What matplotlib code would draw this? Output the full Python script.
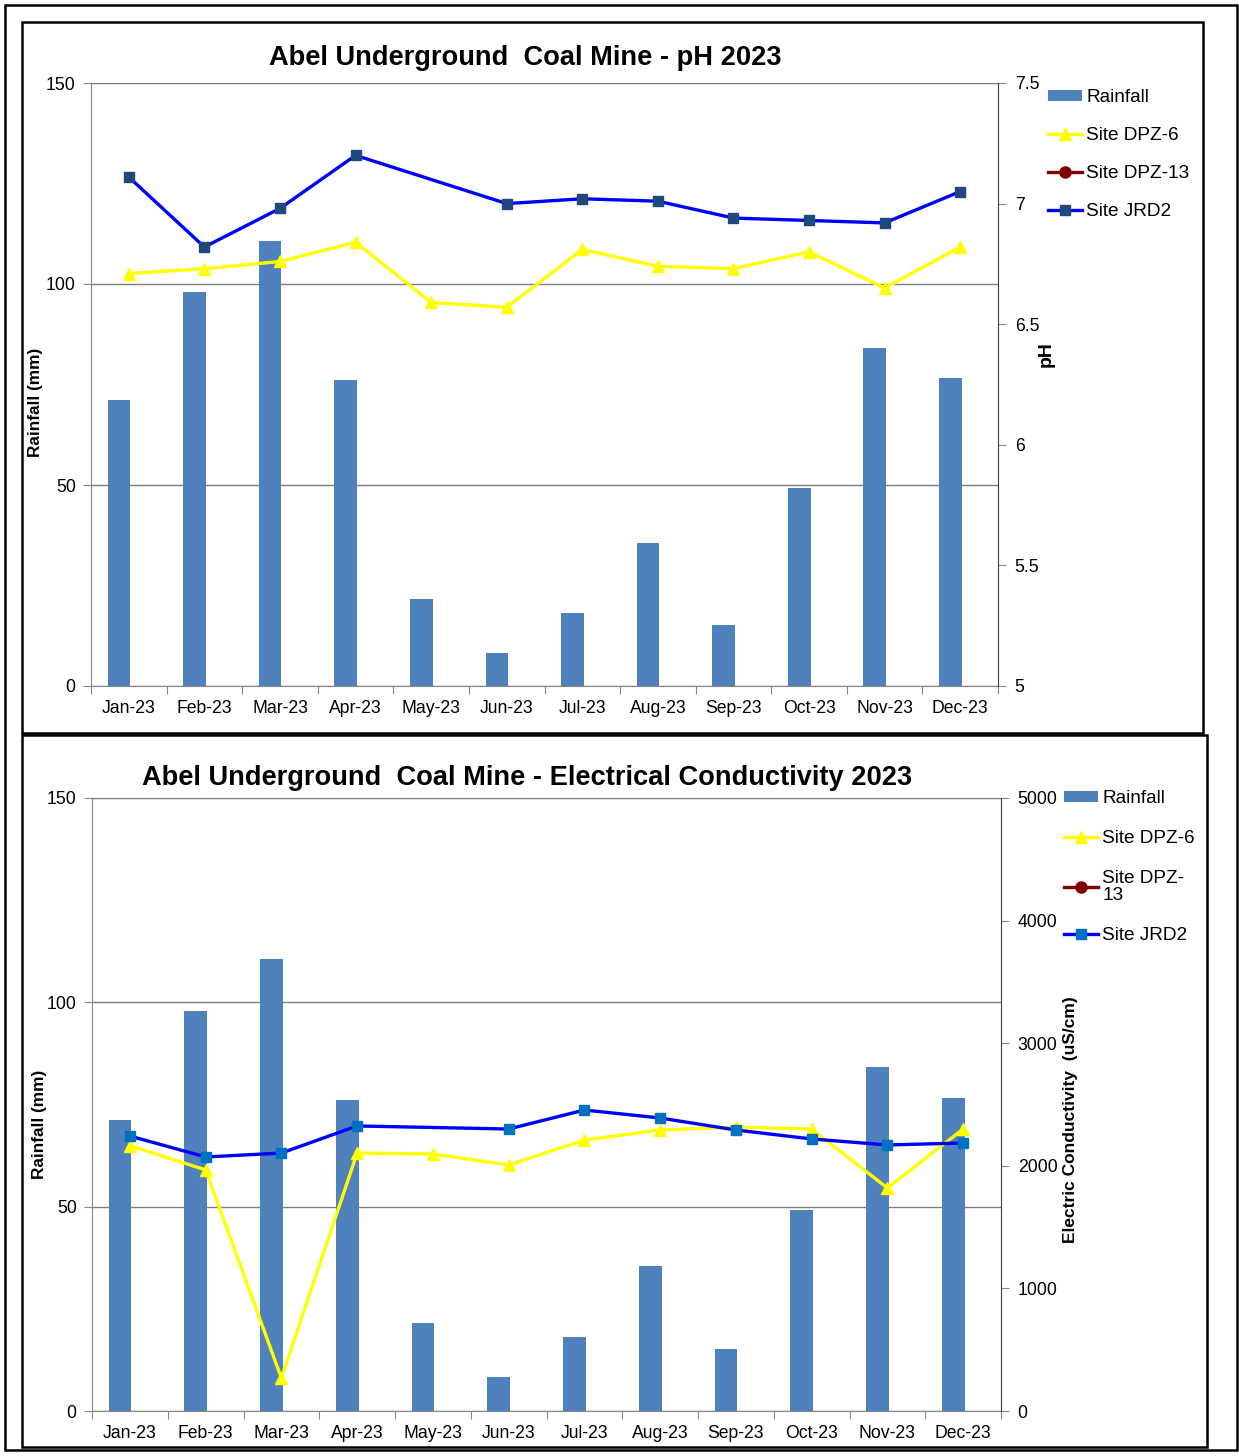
from __future__ import annotations

import matplotlib

matplotlib.use("Agg")

import matplotlib.pyplot as plt
import numpy as np
from matplotlib.patches import Rectangle

plt.rcParams["font.family"] = ["Liberation Sans", "DejaVu Sans"]

MONTHS = ["Jan-23", "Feb-23", "Mar-23", "Apr-23", "May-23", "Jun-23",
          "Jul-23", "Aug-23", "Sep-23", "Oct-23", "Nov-23", "Dec-23"]
RAINFALL = [71.1, 98.0, 110.7, 76.1, 21.6, 8.2, 18.2, 35.6, 15.2, 49.3, 84.1, 76.6]

NAN = float("nan")
PH_DPZ6 = [6.71, 6.73, 6.76, 6.84, 6.59, 6.57, 6.81, 6.74, 6.73, 6.80, 6.65, 6.82]
PH_DPZ13 = [NAN] * 12
PH_JRD2 = [7.11, 6.82, 6.98, 7.20, NAN, 7.00, 7.02, 7.01, 6.94, 6.93, 6.92, 7.05]

EC_DPZ6 = [2165, 1966, 269, 2104, 2096, 2007, 2210, 2292, 2316, 2300, 1819, 2300]
EC_DPZ13 = [NAN] * 12
EC_JRD2 = [2243, 2072, 2104, 2325, NAN, 2300, 2455, 2390, 2292, 2219, 2170, 2186]

BAR_COLOR = "#4F81BD"
AXIS_GRAY = "#868686"
BAR_SHIFT = -0.13  # excel draws the rainfall bars a little left of the category centre
W, H = 1239, 1456


def px_rect(x0, y0, x1, y1):
    return [x0 / W, 1 - y1 / H, (x1 - x0) / W, (y1 - y0) / H]


def plot_series(ax, values, label, **style):
    x = np.arange(len(values))
    y = np.asarray(values, dtype=float)
    mask = ~np.isnan(y)
    ax.plot(x[mask], y[mask], label=label, **style)


def draw_panel(fig, rect, series, right_ticks, right_lim, right_label,
               right_label_pos, left_label_pos, jrd2_marker, dpz13_label,
               legend_anchor, legend_spacing):
    ax = fig.add_axes(rect)
    x = np.arange(len(MONTHS))
    ax.bar(x + BAR_SHIFT, RAINFALL, width=0.30, color=BAR_COLOR, label="Rainfall", zorder=2)
    ax.set_xlim(-0.5, len(MONTHS) - 0.5)
    ax.set_ylim(0, 150)
    ax.set_yticks([0, 50, 100, 150])
    ax.grid(axis="y", color="#7f7f7f", linewidth=1.0, zorder=0)
    ax.set_axisbelow(True)

    ax.set_xticks(np.arange(-0.5, len(MONTHS)), labels=[])
    ax.set_xticks(x, labels=MONTHS, minor=True)
    ax.tick_params(axis="x", which="major", length=6, color=AXIS_GRAY, direction="out")
    ax.tick_params(axis="x", which="minor", length=0, pad=10, labelsize=12.7)
    ax.tick_params(axis="y", length=6, color=AXIS_GRAY, labelsize=12.7, pad=5)
    for name in ["left", "bottom"]:
        ax.spines[name].set_color(AXIS_GRAY)
    ax.spines["top"].set_color("#7f7f7f")
    ax.spines["right"].set_visible(False)
    ax.set_ylabel("Rainfall (mm)", fontsize=12.4, fontweight="bold")
    ax.yaxis.set_label_coords(*left_label_pos)

    ax2 = ax.twinx()
    dpz6, dpz13, jrd2 = series
    plot_series(ax2, dpz6, "Site DPZ-6", color="#FFFF00", linewidth=2.4,
                marker="^", markersize=9)
    plot_series(ax2, dpz13, dpz13_label, color="#800000", linewidth=2.4,
                marker="o", markersize=8)
    plot_series(ax2, jrd2, "Site JRD2", color="#0000FF", linewidth=2.4,
                marker="s", markersize=7, markerfacecolor=jrd2_marker,
                markeredgecolor=jrd2_marker)
    ax2.set_ylim(*right_lim)
    ax2.set_yticks(right_ticks)
    ax2.set_yticklabels([f"{t:g}" for t in right_ticks])
    ax2.tick_params(axis="y", length=6, color=AXIS_GRAY, labelsize=12.7, pad=6)
    ax2.spines["right"].set_color("#404040")
    for name in ["left", "top", "bottom"]:
        ax2.spines[name].set_visible(False)
    ax2.set_ylabel(right_label, fontsize=right_label_pos[2], fontweight="bold")
    ax2.yaxis.set_label_coords(right_label_pos[0], right_label_pos[1])

    handles, labels = ax.get_legend_handles_labels()
    h2, l2 = ax2.get_legend_handles_labels()
    leg = ax2.legend(handles + h2, labels + l2, loc="upper left",
                     bbox_to_anchor=legend_anchor, bbox_transform=fig.transFigure,
                     frameon=False, fontsize=13.7, borderpad=0, handlelength=1.8,
                     handleheight=0.55, handletextpad=0.2, labelspacing=legend_spacing,
                     borderaxespad=0)
    for text in leg.get_texts():
        text.set_linespacing(0.95)
    return ax, ax2


fig = plt.figure(figsize=(W / 100, H / 100), dpi=100)

for x0, y0, x1, y1 in [(5, 5, 1237, 1450), (22, 22, 1203, 733), (22, 735, 1207, 1447)]:
    r = px_rect(x0, y0, x1, y1)
    fig.patches.append(Rectangle((r[0], r[1]), r[2], r[3], transform=fig.transFigure,
                                 fill=False, edgecolor="black", linewidth=1.8))

draw_panel(fig, px_rect(91, 83, 998, 686), (PH_DPZ6, PH_DPZ13, PH_JRD2),
           [5, 5.5, 6, 6.5, 7, 7.5], (5, 7.5), "pH", (1.044, 0.55, 14),
           (-0.053, 0.47), "#1F497D", "Site DPZ-13",
           (1048 / W, 1 - 89 / H), 1.1)
fig.text(525 / W, 1 - 58 / H, "Abel Underground  Coal Mine - pH 2023",
         ha="center", va="center", fontsize=19.6, fontweight="bold")

draw_panel(fig, px_rect(92, 798, 1001, 1411), (EC_DPZ6, EC_DPZ13, EC_JRD2),
           [0, 1000, 2000, 3000, 4000, 5000], (0, 5000),
           "Electric Conductivity  (uS/cm)", (1.068, 0.475, 12.5),
           (-0.05, 0.467), "#0070C0", "Site DPZ-\n13",
           (1064 / W, 1 - 790 / H), 1.22)
fig.text(527 / W, 1 - 778 / H,
         "Abel Underground  Coal Mine - Electrical Conductivity 2023",
         ha="center", va="center", fontsize=19.6, fontweight="bold")

fig.savefig("out.png", dpi=100)
